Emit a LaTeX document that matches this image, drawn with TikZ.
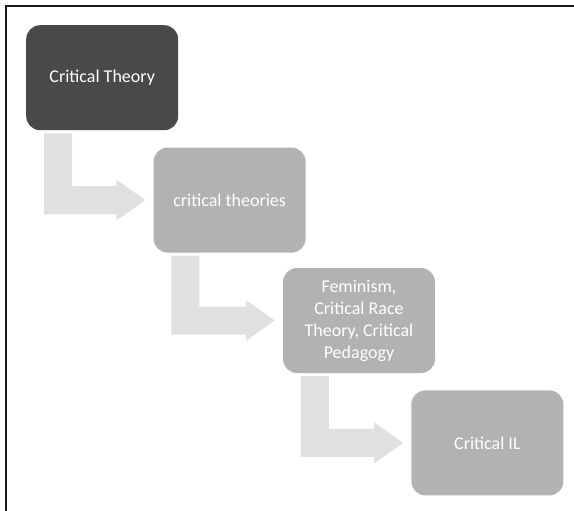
\documentclass[tikz,border=0pt]{standalone}
\usepackage{fontspec}
\setmainfont{Carlito}
\usetikzlibrary{positioning, calc}

\definecolor{darkbox}{HTML}{48494B}
\definecolor{greybox}{HTML}{B1B2B4}
\definecolor{bentgrey}{HTML}{DFE0E2}

\begin{document}
\begin{tikzpicture}[
  box/.style={rounded corners=14pt, minimum width=152pt, minimum height=105pt, align=center, text=white, font=\fontsize{18}{22}\selectfont, inner sep=4pt},
  topbox/.style={box, fill=darkbox},
  subbox/.style={box, fill=greybox},
  bent/.style={fill=bentgrey},
  frame/.style={line width=2pt, draw=black!90}
]
\useasboundingbox (0,0) rectangle (574pt,-511pt);

\coordinate (tl) at (6pt,-6pt);
\coordinate (tr) at (574pt,-6pt);
\coordinate (bl) at (6pt,-511pt);
\draw[frame] (bl) -- (tl) -- (tr);

\node[topbox, anchor=north west] (ct) at (26pt,-25pt) {Critical Theory};
\node[subbox, below right=17pt and -25pt of ct] (cts) {critical theories};
\node[subbox, below right=15pt and -23pt of cts] (fem) {Feminism,\\Critical Race\\Theory, Critical\\Pedagogy};
\node[subbox, below right=17pt and -24pt of fem] (il) {Critical IL};

% bent arrows from box to box
\foreach \a/\b in {ct/cts, cts/fem, fem/il}
  \fill[bent] ($(\a.south west)+(18pt,-3pt)$) coordinate (s) -- ++(28pt,0)
    |- ($(\b.west)+(-37pt,14pt)$) -- ++(0,6.5pt) -- ($(\b.west)+(-8pt,0)$)
    -- ++(-29pt,-20.5pt) -- ++(0,6.5pt) -| (s) -- cycle;
\end{tikzpicture}
\end{document}
